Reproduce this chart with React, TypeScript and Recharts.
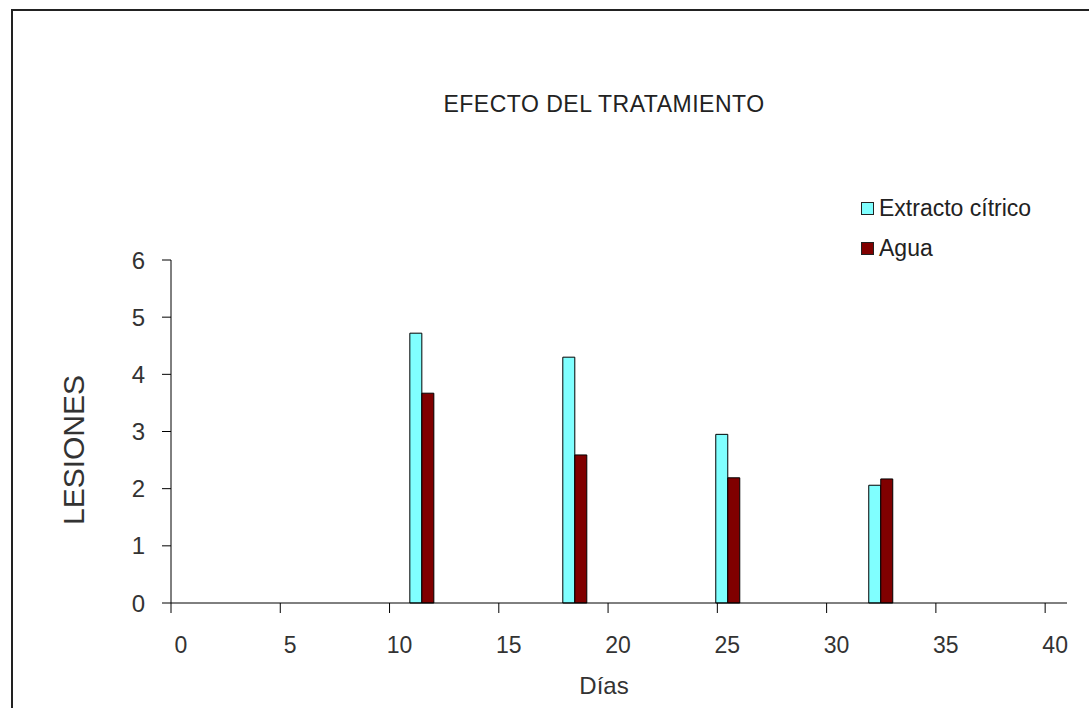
import { BarChart, Bar, XAxis, YAxis } from 'recharts';

// valores
const DIAS = [11.5, 18.5, 25.5, 32.5];
const EXTRACTO = [4.72, 4.3, 2.95, 2.06];
const AGUA = [3.67, 2.59, 2.19, 2.17];
const X_TICKS = [0, 5, 10, 15, 20, 25, 30, 35, 40];
const Y_TICKS = [0, 1, 2, 3, 4, 5, 6];

const SERIES = [
  { key: 'extracto', name: 'Extracto cítrico', color: '#80FFFF' },
  { key: 'agua', name: 'Agua', color: '#800000' },
];

const data = DIAS.map((dia, i) => ({ dia, extracto: EXTRACTO[i], agua: AGUA[i] }));

const FONT = 'Arial, "Liberation Sans", sans-serif';

const XTick = (props: any) => {
  const { x, y, payload } = props;
  return (
    <text x={x + 10} y={y + 38} textAnchor="middle" fill="#333" fontSize={23} fontFamily={FONT}>
      {payload.value}
    </text>
  );
};

export default function App() {
  return (
    <div style={{ position: 'absolute', left: 0, top: 0, width: 1089, height: 708, background: '#fff', overflow: 'hidden', fontFamily: FONT }}>
      <div style={{ position: 'absolute', left: 11, top: 9, width: 1076, height: 720, borderTop: '2px solid #222', borderLeft: '2px solid #222', borderRight: '1px solid #ddd' }} />
      <BarChart
        width={1089}
        height={708}
        data={data}
        margin={{ top: 260, right: 22, bottom: 45, left: 0 }}
        barSize={12}
        barGap={0}
        style={{ position: 'absolute', left: 0, top: 0 }}
      >
        <XAxis
          dataKey="dia"
          type="number"
          domain={[0, 41]}
          ticks={X_TICKS}
          interval={0}
          height={60}
          stroke="#000"
          tickSize={10}
          tick={<XTick />}
        />
        <YAxis
          type="number"
          domain={[0, 6]}
          ticks={Y_TICKS}
          interval={0}
          width={171}
          stroke="#000"
          tickSize={9}
          tickMargin={17}
          tick={{ fill: '#333', fontSize: 24, fontFamily: FONT }}
        />
        {SERIES.map((s) => (
          <Bar key={s.key} dataKey={s.key} name={s.name} fill={s.color} stroke="#000" strokeWidth={1} isAnimationActive={false} />
        ))}
      </BarChart>
      <div style={{ position: 'absolute', left: 404, width: 400, top: 91, textAlign: 'center', fontSize: 23, color: '#222', letterSpacing: 0.5 }}>
        EFECTO DEL TRATAMIENTO
      </div>
      <div style={{ position: 'absolute', left: 504, width: 200, top: 672, textAlign: 'center', fontSize: 24, color: '#333' }}>
        Días
      </div>
      <div style={{ position: 'absolute', left: 74, top: 450, transform: 'translate(-50%, -50%) rotate(-90deg)', fontSize: 30, color: '#333', whiteSpace: 'nowrap' }}>
        LESIONES
      </div>
      <div style={{ position: 'absolute', left: 861, top: 188 }}>
        {SERIES.map((s) => (
          <div key={s.key} style={{ display: 'flex', alignItems: 'center', height: 40, fontSize: 23, color: '#222' }}>
            <span style={{ display: 'inline-block', width: 11, height: 11, background: s.color, border: '1px solid #222', marginRight: 5 }} />
            {s.name}
          </div>
        ))}
      </div>
    </div>
  );
}
